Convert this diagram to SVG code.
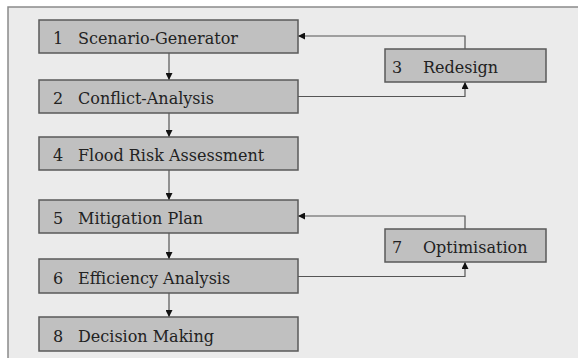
<svg xmlns="http://www.w3.org/2000/svg" width="578" height="358" viewBox="0 0 578 358">
<defs>
<style>
.bg{fill:#ebebeb;stroke:#8a8a8a;stroke-width:1.5}
.box{fill:#c0c0c0;stroke:#5a5a5a;stroke-width:1.5}
.t{font-family:'DejaVu Serif','Liberation Serif',serif;font-size:16px;fill:#222}
.c{fill:none;stroke:#555;stroke-width:1.2}
</style>
<marker id="ah" viewBox="0 0 10 10" refX="10" refY="5" markerWidth="7" markerHeight="7" orient="auto" markerUnits="userSpaceOnUse">
<path d="M0,0 L10,5 L0,10 z" fill="#111"/>
</marker>
</defs>
<rect x="0" y="0" width="578" height="358" fill="#ffffff"/>
<rect class="bg" x="8" y="7" width="575" height="360"/>
<g id="connectors">
<line class="c" x1="169" y1="53" x2="169" y2="80" marker-end="url(#ah)"/>
<line class="c" x1="169" y1="113" x2="169" y2="137" marker-end="url(#ah)"/>
<line class="c" x1="169" y1="170" x2="169" y2="200" marker-end="url(#ah)"/>
<line class="c" x1="169" y1="233" x2="169" y2="259" marker-end="url(#ah)"/>
<line class="c" x1="169" y1="293" x2="169" y2="317" marker-end="url(#ah)"/>
<polyline class="c" points="465,49 465,36 298,36" marker-end="url(#ah)"/>
<polyline class="c" points="298,96.5 465,96.5 465,82" marker-end="url(#ah)"/>
<polyline class="c" points="465,229 465,216 298,216" marker-end="url(#ah)"/>
<polyline class="c" points="298,276.5 465,276.5 465,262" marker-end="url(#ah)"/>
</g>
<g id="n1"><rect class="box" x="39" y="20" width="259" height="33"/><text class="t" x="53" y="44">1</text><text class="t" x="78" y="44">Scenario-Generator</text></g>
<g id="n2"><rect class="box" x="39" y="80" width="259" height="33"/><text class="t" x="53" y="104">2</text><text class="t" x="78" y="104">Conflict-Analysis</text></g>
<g id="n4"><rect class="box" x="39" y="137" width="259" height="33"/><text class="t" x="53" y="161">4</text><text class="t" x="78" y="161">Flood Risk Assessment</text></g>
<g id="n5"><rect class="box" x="39" y="200" width="259" height="33"/><text class="t" x="53" y="224">5</text><text class="t" x="78" y="224">Mitigation Plan</text></g>
<g id="n6"><rect class="box" x="39" y="259" width="259" height="34"/><text class="t" x="53" y="284">6</text><text class="t" x="78" y="284">Efficiency Analysis</text></g>
<g id="n8"><rect class="box" x="39" y="317" width="259" height="34"/><text class="t" x="53" y="342">8</text><text class="t" x="78" y="342">Decision Making</text></g>
<g id="n3"><rect class="box" x="385" y="49" width="161" height="33"/><text class="t" x="392" y="73">3</text><text class="t" x="423" y="73">Redesign</text></g>
<g id="n7"><rect class="box" x="385" y="229" width="161" height="33"/><text class="t" x="392" y="253">7</text><text class="t" x="423" y="253">Optimisation</text></g>
</svg>
